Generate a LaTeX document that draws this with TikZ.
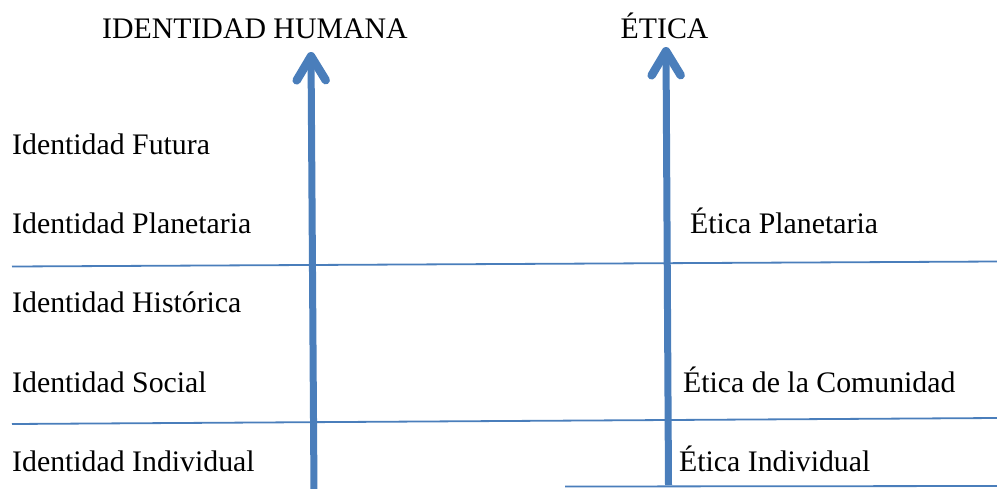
\documentclass[tikz,border=0pt]{standalone}
\usepackage{fontspec}
\setmainfont{Liberation Serif}
\usetikzlibrary{positioning,arrows.meta}
\definecolor{axisblue}{HTML}{4A7EBB}
\begin{document}
\begin{tikzpicture}[x=1pt,y=-1pt,
  label/.style={anchor=base west,inner sep=0pt,font=\fontsize{29.8}{34}\selectfont},
  divider/.style={line width=1.8pt,axisblue},
  axis/.style={line width=7pt,axisblue,
    -{Straight Barb[length=24pt,width=29pt,line width=8.5pt,round]}}]
 \useasboundingbox (0,0) rectangle (997,488);
 % column heads
 \node[label] (idhead) at (102,38) {IDENTIDAD HUMANA};
 \node[label] (ethead) at (620.5,38) {ÉTICA};
 \foreach \nm/\txt/\y in {fut/Futura/154,pla/Planetaria/233.3,his/Histórica/312.6,
   soc/Social/392,ind/Individual/471.5}{
  \node[label] (id\nm) at (12,\y) {Identidad \txt};
 }
 \node[label] (etpla) at (690,233.3) {Ética Planetaria};
 \node[label] (etcom) at (683,392) {Ética de la Comunidad};
 \node[label] (etind) at (679,471.5) {Ética Individual};
 % level dividers
 \coordinate (upL) at (12,266.5);  \coordinate (upR) at (997,261.5);
 \coordinate (loL) at (12,424);    \coordinate (loR) at (997,418);
 \coordinate (btL) at (565,486.5); \coordinate (btR) at (997,486);
 \draw[divider] (upL)--(upR);
 \draw[divider] (loL)--(loR);
 \draw[divider] (btL)--(btR);
 % axes
 \coordinate (idbase) at (314,492); \coordinate (idtip) at (311,52);
 \coordinate (etbase) at (668.5,485); \coordinate (ettip) at (666,47);
 \draw[axis] (idbase)--(idtip);
 \draw[axis] (etbase)--(ettip);
\end{tikzpicture}
\end{document}
